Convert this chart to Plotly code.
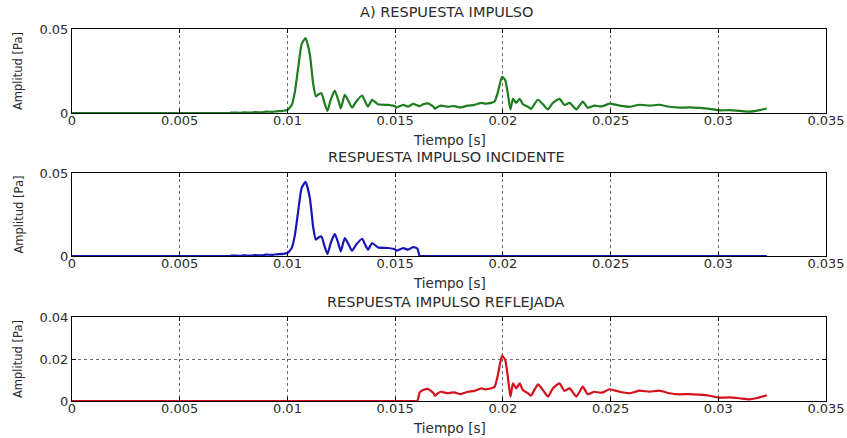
import numpy as np
import plotly.graph_objects as go

# Impulse response samples: time [s] and amplitude [Pa]
tiempo = [
    0.0, 0.0073, 0.0075, 0.0078, 0.0080, 0.0083, 0.0085, 0.0088, 0.0090, 0.0093,
    0.0095, 0.0098, 0.0100, 0.0102, 0.01035, 0.0105, 0.01066, 0.01084, 0.01104, 0.0112,
    0.01132, 0.01143, 0.01158, 0.01172, 0.01186, 0.0120, 0.0122, 0.0124, 0.01248, 0.01266,
    0.0128, 0.0130, 0.0132, 0.01347, 0.0136, 0.01374, 0.01393, 0.0142, 0.01467, 0.0150,
    0.01506, 0.01537, 0.0156, 0.01583, 0.01603, 0.01614, 0.0163, 0.01653, 0.0168, 0.01684,
    0.0170, 0.01714, 0.0173, 0.01746, 0.0176, 0.01777, 0.0179, 0.01807, 0.0182, 0.01838,
    0.01869, 0.0190, 0.0192, 0.01931, 0.0195, 0.01962, 0.01977, 0.01996, 0.02011, 0.02024,
    0.02035, 0.02047, 0.02062, 0.02078, 0.02093, 0.02116, 0.0213, 0.02163, 0.02186, 0.02209,
    0.02232, 0.02263, 0.02286, 0.0231, 0.02341, 0.02371, 0.02394, 0.02425, 0.02449, 0.02464,
    0.02495, 0.02542, 0.02588, 0.02635, 0.02681, 0.02727, 0.02773, 0.0282, 0.02866, 0.02912,
    0.02959, 0.03005, 0.03052, 0.03098, 0.03144, 0.03175, 0.03225,
]
amplitud = [
    0.0, 0.0, 0.0003, 0.0001, 0.0004, 0.0002, 0.0005, 0.0004, 0.0008, 0.0007,
    0.0010, 0.0013, 0.0018, 0.0048, 0.0129, 0.0270, 0.0410, 0.0446, 0.0350, 0.0170,
    0.0098, 0.0110, 0.0118, 0.0060, 0.0012, 0.0075, 0.0133, 0.0060, 0.0028, 0.0108,
    0.0080, 0.0032, 0.0070, 0.0104, 0.0070, 0.0038, 0.0078, 0.0052, 0.0048, 0.0040,
    0.0032, 0.0048, 0.0038, 0.0054, 0.0045, 0.0041, 0.0052, 0.0057, 0.0035, 0.0025,
    0.0038, 0.0044, 0.0040, 0.0037, 0.0040, 0.0041, 0.0036, 0.0033, 0.0038, 0.0044,
    0.0048, 0.0060, 0.0055, 0.0057, 0.0062, 0.0068, 0.0124, 0.0216, 0.0195, 0.0108,
    0.0021, 0.0084, 0.0060, 0.0084, 0.0052, 0.0037, 0.0025, 0.0079, 0.0052, 0.0021,
    0.0060, 0.0084, 0.0048, 0.0060, 0.0021, 0.0068, 0.0032, 0.0044, 0.0040, 0.0041,
    0.0056, 0.0044, 0.0037, 0.0049, 0.0044, 0.0049, 0.0037, 0.0032, 0.0033, 0.0030,
    0.0025, 0.0016, 0.0017, 0.0013, 0.0008, 0.0013, 0.0027,
]
# Direct/reflected split time [s]
t_corte = 0.0161

x_ticks = [0, 0.005, 0.01, 0.015, 0.02, 0.025, 0.03, 0.035]
x_ticktext = ["0", "0.005", "0.01", "0.015", "0.02", "0.025", "0.03", "0.035"]

titulos = ["A) RESPUESTA IMPULSO", "RESPUESTA IMPULSO INCIDENTE", "RESPUESTA IMPULSO REFLEJADA"]
colores = ["#1e7d1e", "#1616b8", "#d4101a"]
y_rangos = [[0, 0.05], [0, 0.05], [0, 0.04]]
y_ticks = [[0, 0.05], [0, 0.05], [0, 0.02, 0.04]]
y_ticktext = [["0", "0.05"], ["0", "0.05"], ["0", "0.02", "0.04"]]

t = np.array(tiempo)
a = np.array(amplitud)
incidente = np.where(t <= t_corte, a, 0.0)
reflejada = np.where(t >= t_corte, a, 0.0)
series = [a, incidente, reflejada]

W, H = 847, 438
x_dom = [72 / W, 826 / W]
# panel top/bottom in pixels
paneles = [(29, 113), (173, 256), (317, 401)]
title_y = [12, 157, 302]

FONT = "DejaVu Sans, Verdana, sans-serif"
TXT = "#2c2c2c"
fig = go.Figure()
layout = dict(
    width=W, height=H, margin=dict(l=0, r=0, t=0, b=0, autoexpand=False),
    paper_bgcolor="white", plot_bgcolor="white", showlegend=False,
    font=dict(family=FONT, size=13, color=TXT),
)
annotations = []
for i in range(3):
    ax = "" if i == 0 else str(i + 1)
    fig.add_trace(go.Scatter(
        x=t, y=series[i], mode="lines",
        line=dict(color=colores[i], width=2.2, shape="spline", smoothing=0.5),
        xaxis="x" + ax, yaxis="y" + ax,
    ))
    top, bot = paneles[i]
    y_dom = [1 - bot / H, 1 - top / H]
    common = dict(
        showgrid=True, gridcolor="#6a6a6a", griddash="dot", gridwidth=1,
        showline=True, linecolor="black", linewidth=1, mirror="ticks",
        ticks="inside", ticklen=4, tickcolor="black", automargin=False,
        zeroline=False, tickfont=dict(size=13, family=FONT, color=TXT),
    )
    layout["xaxis" + ax] = dict(
        domain=x_dom, range=[0, 0.035], anchor="y" + ax,
        tickvals=x_ticks, ticktext=x_ticktext, ticklabelstandoff=-5, **common,
    )
    layout["yaxis" + ax] = dict(
        domain=y_dom, range=y_rangos[i], anchor="x" + ax,
        tickvals=y_ticks[i], ticktext=y_ticktext[i], **common,
    )
    annotations.append(dict(
        text=titulos[i], x=446 / W, y=1 - title_y[i] / H, xref="paper", yref="paper",
        xanchor="center", yanchor="middle", showarrow=False,
        font=dict(size=14.5, family=FONT, color=TXT),
    ))
    annotations.append(dict(
        text="Tiempo [s]", x=449 / W, y=1 - (bot + 27) / H, xref="paper", yref="paper",
        xanchor="center", yanchor="middle", showarrow=False,
        font=dict(size=13.5, family=FONT, color=TXT),
    ))
    annotations.append(dict(
        text="Amplitud [Pa]", x=18 / W, y=1 - ((top + bot) / 2) / H, xref="paper", yref="paper",
        xanchor="center", yanchor="middle", showarrow=False, textangle=-90,
        font=dict(size=11.5, family=FONT, color=TXT),
    ))
layout["annotations"] = annotations
fig.update_layout(**layout)
fig.write_html("out.html")
